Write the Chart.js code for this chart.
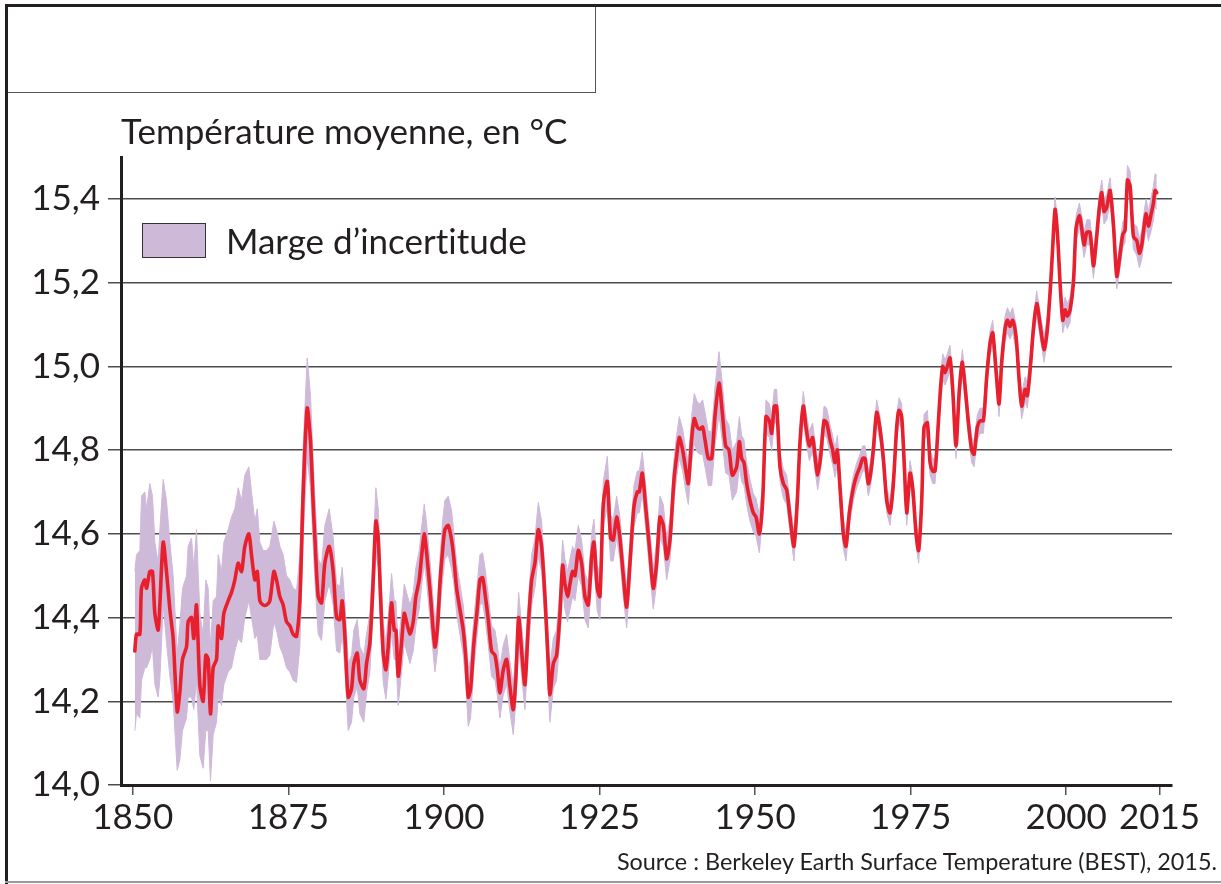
<!DOCTYPE html>
<html lang="fr">
<head>
<meta charset="utf-8">
<title>Température moyenne, en °C</title>
<script src="https://cdn.jsdelivr.net/npm/chart.js@4.4.1/dist/chart.umd.min.js"></script>
<style>
  html, body { margin: 0; padding: 0; background: #fff; }
  #page { position: relative; width: 1221px; height: 884px; overflow: hidden; font-family: Lato, "Open Sans", sans-serif; color: #231f20; font-variant-ligatures: none; }
  #graph { position: absolute; left: 0; top: 0; }
  .cadre-haut { position: absolute; left: 5px; top: 4px; width: 1216px; height: 3px; background: #231f20; }
  .cadre-gauche { position: absolute; left: 5px; top: 4px; width: 3px; height: 880px; background: #231f20; }
  .cadre-bas { position: absolute; left: 5px; top: 881px; width: 1216px; height: 2px; background: #9a9a9a; }
  .encart { position: absolute; left: 8px; top: 7px; width: 587px; height: 85px; border: 1px solid #555; border-top: 0; border-left: 0; }
  .titre { position: absolute; left: 121px; top: 110px; font-size: 35px; line-height: 40px; white-space: nowrap; }
  .legende { position: absolute; left: 142px; top: 223px; height: 36px; white-space: nowrap; }
  .legende .carre { position: absolute; left: 0; top: 0; width: 62px; height: 33px; border: 1.5px solid #333; }
  .legende .texte { position: absolute; left: 84px; top: -3px; font-size: 35px; line-height: 40px; }
  .source { position: absolute; right: 4px; top: 847px; font-size: 23.4px; line-height: 28px; white-space: nowrap; }
</style>
</head>
<body>
<div id="page">
  <canvas id="graph" width="1221" height="884"></canvas>
  <div class="cadre-haut"></div>
  <div class="cadre-gauche"></div>
  <div class="cadre-bas"></div>
  <div class="encart"></div>
  <div class="titre">Température moyenne, en °C</div>
  <div class="legende"><div class="carre" id="carre"></div><div class="texte">Marge d’incertitude</div></div>
  <div class="source">Source : Berkeley Earth Surface Temperature (BEST), 2015.</div>
</div>
<script>
// valeurs (moyenne glissante sur 12 mois)
var annees = [
  1850.32, 1850.59, 1851.13, 1851.39, 1851.93, 1852.20, 1852.73, 1853.16, 1853.54, 1854.07,
  1854.34, 1854.88, 1855.41, 1855.95, 1856.48, 1857.13, 1857.55, 1857.98, 1858.63, 1858.89,
  1859.43, 1859.80, 1860.23, 1860.77, 1861.30, 1861.73, 1862.11, 1862.48, 1862.91, 1863.45,
  1863.72, 1864.25, 1864.63, 1865.32, 1865.86, 1866.40, 1866.93, 1867.47, 1868.00, 1868.65,
  1869.07, 1869.61, 1870.00, 1870.41, 1870.95, 1871.48, 1872.02, 1872.67, 1873.09, 1873.63,
  1874.16, 1874.70, 1875.24, 1875.77, 1876.31, 1876.84, 1877.38, 1878.02, 1878.56, 1878.99,
  1879.26, 1879.79, 1880.33, 1880.86, 1881.56, 1882.20, 1882.74, 1883.27, 1883.65, 1884.08,
  1884.61, 1885.15, 1885.52, 1886.06, 1886.49, 1887.13, 1887.56, 1888.10, 1888.63, 1889.06,
  1889.44, 1889.81, 1890.24, 1890.67, 1891.04, 1891.58, 1892.01, 1892.28, 1892.65, 1893.19,
  1893.62, 1893.99, 1894.53, 1895.06, 1895.49, 1896.03, 1896.40, 1896.83, 1897.21, 1897.85,
  1898.55, 1898.98, 1899.35, 1899.78, 1900.15, 1900.69, 1901.23, 1901.60, 1902.03, 1902.56,
  1903.10, 1903.53, 1903.90, 1904.28, 1904.81, 1905.35, 1905.78, 1906.21, 1906.58, 1907.12,
  1907.65, 1908.19, 1908.57, 1908.99, 1909.53, 1910.07, 1910.60, 1911.14, 1911.57, 1912.00,
  1912.48, 1913.01, 1913.55, 1914.09, 1914.62, 1915.16, 1915.69, 1916.23, 1916.76, 1917.03,
  1917.57, 1918.10, 1918.64, 1919.07, 1919.44, 1919.87, 1920.25, 1920.67, 1921.05, 1921.59,
  1922.12, 1922.66, 1923.19, 1923.73, 1924.10, 1924.64, 1925.07, 1925.60, 1926.25, 1926.78,
  1927.21, 1927.75, 1928.28, 1928.82, 1929.36, 1929.89, 1930.53, 1931.07, 1931.39, 1931.87,
  1932.41, 1933.00, 1933.64, 1934.18, 1934.71, 1935.25, 1935.79, 1936.32, 1936.97, 1937.39,
  1937.82, 1938.36, 1938.89, 1939.27, 1939.80, 1940.23, 1940.71, 1941.14, 1941.57, 1941.95,
  1942.48, 1943.02, 1943.55, 1944.20, 1944.73, 1945.27, 1945.81, 1946.34, 1947.04, 1947.47,
  1947.84, 1948.22, 1948.65, 1949.18, 1949.72, 1950.15, 1950.68, 1951.22, 1951.75, 1952.29,
  1952.66, 1953.09, 1953.47, 1954.00, 1954.54, 1955.08, 1955.61, 1956.25, 1956.79, 1957.22,
  1957.75, 1958.18, 1958.72, 1959.25, 1959.63, 1960.06, 1960.54, 1961.08, 1961.51, 1962.04,
  1962.47, 1962.84, 1963.22, 1963.65, 1964.18, 1964.61, 1965.15, 1965.79, 1966.33, 1966.86,
  1967.29, 1967.67, 1968.20, 1968.58, 1969.00, 1969.54, 1970.08, 1970.61, 1971.15, 1971.68,
  1972.22, 1972.76, 1973.13, 1973.56, 1973.99, 1974.37, 1974.90, 1975.33, 1975.87, 1976.29,
  1976.78, 1977.15, 1977.69, 1978.12, 1978.54, 1978.92, 1979.29, 1979.72, 1980.15, 1980.53,
  1980.90, 1981.33, 1981.76, 1982.29, 1982.83, 1983.31, 1983.85, 1984.28, 1984.81, 1985.19,
  1985.72, 1986.15, 1986.69, 1987.22, 1987.76, 1988.19, 1988.72, 1989.21, 1989.63, 1990.17,
  1990.55, 1990.97, 1991.40, 1991.94, 1992.47, 1992.85, 1993.39, 1993.76, 1994.30, 1994.73,
  1995.26, 1995.80, 1996.44, 1996.98, 1997.51, 1997.83, 1998.21, 1998.58, 1999.01, 1999.44,
  1999.82, 2000.19, 2000.62, 2001.16, 2001.58, 2002.12, 2002.49, 2002.87, 2003.30, 2003.83,
  2004.37, 2004.80, 2005.33, 2005.71, 2006.08, 2006.51, 2007.05, 2007.58, 2008.12, 2008.55,
  2009.09, 2009.46, 2009.84, 2010.27, 2010.80, 2011.34, 2011.76, 2012.14, 2012.52, 2012.84,
  2013.21, 2013.59, 2014.02, 2014.28, 2014.55
];

var temperature = [
  14.32, 14.36, 14.36, 14.47, 14.49, 14.47, 14.51, 14.51, 14.41, 14.37,
  14.43, 14.58, 14.51, 14.42, 14.35, 14.175, 14.22, 14.30, 14.33, 14.39,
  14.40, 14.35, 14.43, 14.24, 14.20, 14.31, 14.30, 14.17, 14.28, 14.30,
  14.38, 14.35, 14.41, 14.44, 14.46, 14.49, 14.53, 14.51, 14.57, 14.60,
  14.55, 14.49, 14.51, 14.44, 14.43, 14.43, 14.44, 14.51, 14.49, 14.45,
  14.43, 14.39, 14.38, 14.36, 14.355, 14.44, 14.70, 14.90, 14.82, 14.67,
  14.59, 14.45, 14.435, 14.53, 14.57, 14.51, 14.40, 14.395, 14.44, 14.355,
  14.21, 14.23, 14.29, 14.315, 14.25, 14.23, 14.29, 14.34, 14.49, 14.63,
  14.59, 14.45, 14.315, 14.275, 14.33, 14.435, 14.37, 14.37, 14.26, 14.34,
  14.41, 14.39, 14.36, 14.39, 14.45, 14.49, 14.545, 14.60, 14.555, 14.45,
  14.33, 14.38, 14.48, 14.56, 14.61, 14.62, 14.585, 14.54, 14.47, 14.42,
  14.37, 14.30, 14.21, 14.23, 14.34, 14.42, 14.49, 14.495, 14.46, 14.395,
  14.32, 14.31, 14.275, 14.22, 14.275, 14.30, 14.235, 14.18, 14.26, 14.40,
  14.32, 14.24, 14.38, 14.49, 14.53, 14.61, 14.57, 14.45, 14.29, 14.215,
  14.29, 14.31, 14.41, 14.525, 14.48, 14.45, 14.48, 14.51, 14.50, 14.56,
  14.53, 14.45, 14.43, 14.545, 14.58, 14.47, 14.45, 14.67, 14.725, 14.59,
  14.585, 14.64, 14.59, 14.50, 14.425, 14.53, 14.665, 14.70, 14.70, 14.745,
  14.665, 14.57, 14.47, 14.53, 14.64, 14.62, 14.54, 14.585, 14.73, 14.785,
  14.83, 14.80, 14.75, 14.72, 14.825, 14.875, 14.855, 14.85, 14.855, 14.825,
  14.78, 14.78, 14.88, 14.96, 14.89, 14.81, 14.80, 14.74, 14.76, 14.82,
  14.78, 14.77, 14.72, 14.68, 14.65, 14.64, 14.60, 14.68, 14.88, 14.87,
  14.84, 14.905, 14.905, 14.76, 14.72, 14.705, 14.64, 14.57, 14.68, 14.82,
  14.905, 14.855, 14.81, 14.83, 14.785, 14.74, 14.785, 14.87, 14.865, 14.825,
  14.80, 14.77, 14.80, 14.71, 14.60, 14.57, 14.65, 14.71, 14.74, 14.76,
  14.78, 14.78, 14.72, 14.745, 14.80, 14.89, 14.85, 14.78, 14.68, 14.65,
  14.72, 14.855, 14.895, 14.88, 14.76, 14.65, 14.745, 14.71, 14.60, 14.56,
  14.68, 14.855, 14.865, 14.77, 14.75, 14.75, 14.825, 14.93, 15.00, 14.985,
  15.00, 15.02, 14.945, 14.81, 14.945, 15.01, 14.935, 14.865, 14.80, 14.79,
  14.855, 14.87, 14.87, 14.975, 15.055, 15.08, 14.99, 14.91, 15.01, 15.09,
  15.11, 15.095, 15.11, 15.07, 14.96, 14.905, 14.945, 14.93, 15.01, 15.09,
  15.15, 15.10, 15.04, 15.09, 15.20, 15.285, 15.375, 15.32, 15.20, 15.11,
  15.135, 15.12, 15.135, 15.20, 15.33, 15.36, 15.33, 15.29, 15.32, 15.32,
  15.24, 15.295, 15.38, 15.415, 15.37, 15.38, 15.42, 15.34, 15.215, 15.255,
  15.315, 15.325, 15.445, 15.43, 15.31, 15.30, 15.27, 15.29, 15.335, 15.365,
  15.335, 15.36, 15.39, 15.42, 15.415
];

// demi-largeur de la marge d'incertitude
var marge = [
  0.19, 0.19, 0.20, 0.22, 0.21, 0.19, 0.21, 0.18, 0.17, 0.16,
  0.18, 0.15, 0.17, 0.16, 0.15, 0.14, 0.16, 0.17, 0.17, 0.18,
  0.19, 0.17, 0.18, 0.17, 0.16, 0.18, 0.17, 0.16, 0.16, 0.15,
  0.17, 0.16, 0.17, 0.17, 0.18, 0.17, 0.18, 0.17, 0.17, 0.16,
  0.15, 0.14, 0.15, 0.14, 0.13, 0.13, 0.13, 0.12, 0.12, 0.12,
  0.12, 0.11, 0.11, 0.11, 0.11, 0.11, 0.11, 0.12, 0.11, 0.10,
  0.10, 0.09, 0.09, 0.09, 0.09, 0.08, 0.08, 0.08, 0.08, 0.08,
  0.08, 0.08, 0.08, 0.08, 0.08, 0.08, 0.07, 0.07, 0.07, 0.08,
  0.07, 0.07, 0.07, 0.07, 0.07, 0.07, 0.07, 0.07, 0.07, 0.07,
  0.07, 0.07, 0.07, 0.07, 0.07, 0.07, 0.07, 0.07, 0.07, 0.07,
  0.06, 0.06, 0.06, 0.07, 0.07, 0.07, 0.07, 0.06, 0.06, 0.06,
  0.06, 0.06, 0.07, 0.07, 0.06, 0.06, 0.06, 0.06, 0.06, 0.06,
  0.06, 0.06, 0.06, 0.06, 0.06, 0.06, 0.06, 0.06, 0.06, 0.06,
  0.06, 0.06, 0.06, 0.06, 0.06, 0.065, 0.06, 0.06, 0.06, 0.065,
  0.06, 0.06, 0.06, 0.06, 0.06, 0.06, 0.06, 0.06, 0.06, 0.06,
  0.055, 0.055, 0.055, 0.055, 0.055, 0.055, 0.055, 0.055, 0.06, 0.055,
  0.05, 0.05, 0.05, 0.05, 0.05, 0.05, 0.05, 0.05, 0.05, 0.05,
  0.05, 0.05, 0.05, 0.05, 0.05, 0.05, 0.05, 0.05, 0.05, 0.05,
  0.05, 0.05, 0.05, 0.05, 0.055, 0.06, 0.06, 0.06, 0.065, 0.065,
  0.065, 0.065, 0.07, 0.075, 0.07, 0.065, 0.06, 0.06, 0.06, 0.06,
  0.055, 0.055, 0.05, 0.05, 0.045, 0.045, 0.045, 0.04, 0.04, 0.04,
  0.04, 0.04, 0.04, 0.035, 0.035, 0.035, 0.035, 0.035, 0.035, 0.035,
  0.035, 0.035, 0.035, 0.035, 0.035, 0.035, 0.035, 0.035, 0.035, 0.035,
  0.035, 0.035, 0.035, 0.035, 0.035, 0.035, 0.03, 0.03, 0.03, 0.03,
  0.03, 0.03, 0.03, 0.03, 0.03, 0.03, 0.03, 0.03, 0.03, 0.03,
  0.03, 0.03, 0.03, 0.03, 0.03, 0.03, 0.03, 0.03, 0.03, 0.03,
  0.03, 0.03, 0.03, 0.03, 0.03, 0.03, 0.03, 0.03, 0.03, 0.03,
  0.03, 0.03, 0.03, 0.03, 0.03, 0.03, 0.03, 0.03, 0.03, 0.03,
  0.03, 0.03, 0.03, 0.03, 0.03, 0.03, 0.03, 0.03, 0.03, 0.03,
  0.03, 0.03, 0.03, 0.03, 0.03, 0.03, 0.03, 0.03, 0.03, 0.03,
  0.03, 0.03, 0.03, 0.03, 0.03, 0.03, 0.03, 0.03, 0.03, 0.03,
  0.03, 0.03, 0.03, 0.03, 0.03, 0.03, 0.03, 0.03, 0.03, 0.03,
  0.03, 0.03, 0.03, 0.03, 0.03, 0.03, 0.03, 0.03, 0.03, 0.03,
  0.03, 0.03, 0.035, 0.035, 0.03, 0.035, 0.035, 0.035, 0.035, 0.035,
  0.035, 0.04, 0.04, 0.04, 0.04
];

var ticksAnnees = [1850, 1875, 1900, 1925, 1950, 1975, 2000, 2015];
var ticksTemperature = [14.0, 14.2, 14.4, 14.6, 14.8, 15.0, 15.2, 15.4];

var ROUGE = "#e8202d";
var MAUVE = "rgb(207,185,217)";
var NOIR = "#231f20";

document.getElementById("carre").style.background = MAUVE;

var haut = [], bas = [], courbe = [];
for (var i = 0; i < annees.length; i++) {
  haut.push({x: annees[i], y: temperature[i] + marge[i]});
  bas.push({x: annees[i], y: temperature[i] - marge[i]});
  courbe.push({x: annees[i], y: temperature[i]});
}

var police = {family: "Lato, 'Open Sans', sans-serif", size: 35};

new Chart(document.getElementById("graph"), {
  type: "line",
  data: {
    datasets: [
      // la courbe rouge passe devant la marge (order le plus petit = dessiné en dernier)
      {label: "Température", data: courbe, order: 0, fill: false, borderColor: ROUGE, borderWidth: 3.6,
       pointRadius: 0, tension: 0.25, borderJoinStyle: "round", borderCapStyle: "round"},
      {label: "Marge d’incertitude", data: haut, order: 1, fill: "+1", backgroundColor: MAUVE,
       borderColor: MAUVE, borderWidth: 1, pointRadius: 0, tension: 0},
      {label: "bas", data: bas, order: 2, fill: false, borderColor: MAUVE, borderWidth: 1,
       pointRadius: 0, tension: 0}
    ]
  },
  options: {
    responsive: false,
    animation: false,
    events: [],
    layout: {padding: {top: 157, right: 49, bottom: 0, left: 0}},
    plugins: {legend: {display: false}, tooltip: {enabled: false}, title: {display: false}},
    scales: {
      x: {
        type: "linear",
        min: 1848.1,
        max: 2017,
        afterBuildTicks: function(s) { s.ticks = ticksAnnees.map(function(v) { return {value: v}; }); },
        afterFit: function(s) { s.height = 99; },
        border: {display: true, color: NOIR, width: 3},
        grid: {drawOnChartArea: false, drawTicks: true, tickLength: 10, color: "#555", lineWidth: 1.5},
        ticks: {color: NOIR, font: police, padding: 2, maxRotation: 0, autoSkip: false,
                callback: function(v) { return String(v); }}
      },
      y: {
        min: 14.0,
        max: 15.5,
        afterBuildTicks: function(s) { s.ticks = ticksTemperature.map(function(v) { return {value: v}; }); },
        afterFit: function(s) { s.width = 121; },
        border: {display: true, color: NOIR, width: 3},
        grid: {color: "#4d4d4d", lineWidth: 1.5, tickLength: 13, drawTicks: true},
        ticks: {color: NOIR, font: police, padding: 8,
                callback: function(v) { return v.toFixed(1).replace(".", ","); }}
      }
    }
  }
});
</script>
</body>
</html>
